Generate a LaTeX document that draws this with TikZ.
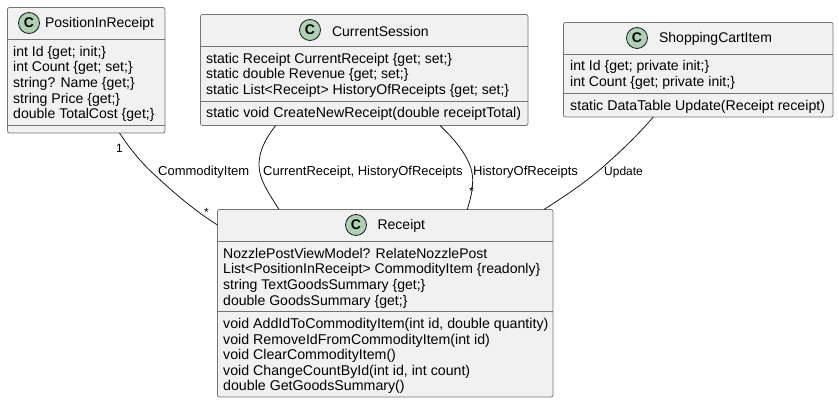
\documentclass[tikz,border=0pt]{standalone}
\usepackage{fontspec}
\setmainfont{Liberation Sans}
\usetikzlibrary{calc,positioning}
\definecolor{boxfill}{HTML}{F1F1F1}
\definecolor{boxline}{HTML}{181818}
\definecolor{spotfill}{HTML}{ADD1B2}
\tikzset{
  classbox/.style={draw=boxline!60,fill=boxfill,line width=0.8pt,rounded corners=2pt,anchor=north west,inner sep=0pt,outer sep=0pt},
  sepline/.style={draw=boxline!60,line width=0.8pt},
  spot/.style={circle,draw=boxline,fill=spotfill,line width=0.8pt,minimum size=21pt,inner sep=0pt,font=\fontsize{14}{14}\selectfont\bfseries},
  classname/.style={inner sep=0pt,yshift=-1pt,font=\fontsize{14}{16}\selectfont},
  members/.style={anchor=north west,inner sep=0pt,align=left,font=\fontsize{14.05}{15.6}\selectfont},
  methods/.style={members,font=\fontsize{14.2}{15.6}\selectfont},
  link/.style={draw=boxline,line width=0.8pt},
  linklabel/.style={inner sep=0pt,anchor=west,font=\fontsize{13}{14}\selectfont},
  endlabel/.style={inner sep=0pt,anchor=west,font=\fontsize{12}{14}\selectfont},
}
\begin{document}
\begin{tikzpicture}[x=1pt,y=-1pt]
\useasboundingbox (0,0) rectangle (838,403);
% boxes
\node[classbox,minimum width=157.5pt,minimum height=125.5pt] (pos) at (7.5,7.5) {};
\node[classbox,minimum width=327.5pt,minimum height=111pt] (session) at (200.5,14.5) {};
\node[classbox,minimum width=269.5pt,minimum height=94.5pt] (cart) at (563.5,22.5) {};
\node[classbox,minimum width=335.5pt,minimum height=187.5pt] (receipt) at (217.5,209.5) {};
% compartments
\draw[sepline] ([yshift=-32pt]pos.north west) -- ([yshift=-32pt]pos.north east);
\draw[sepline] ([yshift=-117.5pt]pos.north west) -- ([yshift=-117.5pt]pos.north east);
\draw[sepline] ([yshift=-32pt]session.north west) -- ([yshift=-32pt]session.north east);
\draw[sepline] ([yshift=-86.5pt]session.north west) -- ([yshift=-86.5pt]session.north east);
\draw[sepline] ([yshift=-31.5pt]cart.north west) -- ([yshift=-31.5pt]cart.north east);
\draw[sepline] ([yshift=-71pt]cart.north west) -- ([yshift=-71pt]cart.north east);
\draw[sepline] ([yshift=-32pt]receipt.north west) -- ([yshift=-32pt]receipt.north east);
\draw[sepline] ([yshift=-102pt]receipt.north west) -- ([yshift=-102pt]receipt.north east);
% headers
\node[spot] (poscirc) at (29,23) {C};
\node[classname,right=5pt of poscirc] (postitle) {PositionInReceipt};
\node[spot] (sessioncirc) at (310,30) {C};
\node[classname,right=11pt of sessioncirc] (sessiontitle) {CurrentSession};
\node[spot] (cartcirc) at (637,38) {C};
\node[classname,right=11pt of cartcirc] (carttitle) {ShoppingCartItem};
\node[spot] (receiptcirc) at (356,225) {C};
\node[classname,right=10.5pt of receiptcirc] (receipttitle) {Receipt};
% members
\node[members] (posattr) at (13,46) {int Id \{get; init;\}\\int Count \{get; set;\}\\string? Name \{get;\}\\string Price \{get;\}\\double TotalCost \{get;\}};
\node[members] (sessionattr) at (206,53) {static Receipt CurrentReceipt \{get; set;\}\\static double Revenue \{get; set;\}\\static List<Receipt> HistoryOfReceipts \{get; set;\}};
\node[methods] (sessionfunc) at (206,107.5) {static void CreateNewReceipt(double receiptTotal)};
\node[members] (cartattr) at (570,60.5) {int Id \{get; private init;\}\\int Count \{get; private init;\}};
\node[methods] (cartfunc) at (570,100) {static DataTable Update(Receipt receipt)};
\node[members] (receiptattr) at (223,248) {NozzlePostViewModel? RelateNozzlePost\\List<PositionInReceipt> CommodityItem \{readonly\}\\string TextGoodsSummary \{get;\}\\double GoodsSummary \{get;\}};
\node[methods] (receiptfunc) at (223,318) {void AddIdToCommodityItem(int id, double quantity)\\void RemoveIdFromCommodityItem(int id)\\void ClearCommodityItem()\\void ChangeCountById(int id, int count)\\double GetGoodsSummary()};
% associations
\draw[link] ($(pos.south west)+(112,0)$) .. controls (130,149) and (143,165) .. (157,177) .. controls (173,192) and (195,211) .. ($(receipt.north west)+(0,15.5)$);
\draw[link] ($(session.south west)+(75.2,0)$) .. controls (262,143) and (259,155) .. (259,165) .. controls (259,180) and (270,195) .. ($(receipt.north west)+(61.5,0)$);
\draw[link] ($(session.south west)+(239.5,0)$) .. controls (456,141) and (472.7,160) .. (472.7,180) .. controls (472.7,192) and (470,200) .. ($(receipt.north west)+(249.8,0)$);
\draw[link] ($(cart.south west)+(89.8,0)$) .. controls (637,136) and (620,152) .. (603,167) .. controls (586,182) and (565,196) .. ($(receipt.north east)+(-9,0)$);
% labels
\node[linklabel] (itemlabel) at (158,172) {CommodityItem};
\node[linklabel] (currentlabel) at (263,172) {CurrentReceipt, HistoryOfReceipts};
\node[linklabel] (historylabel) at (473,172) {HistoryOfReceipts};
\node[endlabel] (updatelabel) at (604,172) {Update};
\node[endlabel] (oneend) at (116,148) {1};
\node[endlabel] (itemsend) at (204,212) {*};
\node[endlabel] (historyend) at (469,191) {*};
\end{tikzpicture}
\end{document}
